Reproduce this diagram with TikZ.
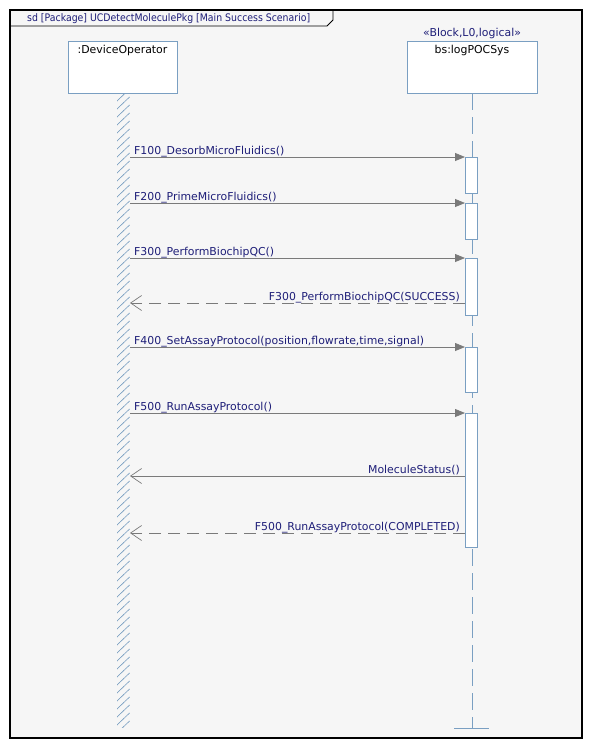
\documentclass[tikz,border=0pt]{standalone}
\usepackage{fontspec}
\setmainfont{DejaVu Sans}
\newfontfamily\titlefont{DejaVu Sans}[FakeStretch=0.9]
\usetikzlibrary{arrows.meta}
\definecolor{navy}{HTML}{1E1E78}
\definecolor{llc}{HTML}{7A9FC2}
\definecolor{bgc}{HTML}{F6F6F6}
\definecolor{msgc}{HTML}{7A7A7A}
\tikzset{
  objbox/.style={draw=llc, fill=white, line width=0.9pt, inner sep=0pt, outer sep=0pt, minimum width=109pt, minimum height=52pt},
  actbox/.style={draw=llc, fill=white, line width=0.9pt, inner sep=0pt, outer sep=0pt, minimum width=12pt},
  call/.style={draw=msgc, line width=0.8pt, -{Triangle[length=10pt,width=8pt]}},
  reply/.style={draw=msgc, line width=0.8pt, dash pattern=on 12pt off 7pt, -{Straight Barb[length=11pt,width=15pt,line width=0.7pt]}},
  sig/.style={draw=msgc, line width=0.8pt, -{Straight Barb[length=11pt,width=15pt,line width=0.7pt]}},
  lbl/.style={text=navy, inner sep=0pt},
}
\begin{document}
\begin{tikzpicture}[x=1pt,y=-1pt,font=\fontsize{10.9}{12}\selectfont]
\useasboundingbox (0,0) rectangle (592,748);
\fill[white] (0,0) rectangle (592,748);
% frame
\draw[fill=bgc, line width=1.5pt] (10,10) rectangle (582,738);
\draw[line width=0.9pt] (10,26) -- (327,26) -- (333,20) -- (333,10);
\node[lbl, anchor=base west, font=\titlefont\fontsize{10.4}{12}\selectfont] (title) at (27,21.5) {sd [Package] UCDetectMoleculePkg [Main Success Scenario]};
% lifelines heads
\node[objbox] (op) at (122.5,67) {};
\node[anchor=north, inner sep=0pt] (opt) at ([yshift=-4pt]op.north) {:DeviceOperator};
\node[objbox, minimum width=130pt] (po) at (472,67) {};
\node[anchor=north, inner sep=0pt] (pot) at ([yshift=-4pt]po.north) {bs:logPOCSys};
\node[lbl, anchor=south] (ster) at ([yshift=2pt]po.north) {«Block,L0,logical»};
% left hatched lifeline
\begin{scope}
\clip (117,93) rectangle (130,727);
\foreach \y in {89,97,...,735} {
  \draw[llc, line width=0.8pt, dash pattern=on 1pt off 0.5pt] (117,\y+12) -- (129.5,\y);
}
\end{scope}
% right lifeline
\coordinate (lend) at (472,728);
\draw[llc, line width=0.9pt, dash pattern=on 17pt off 7pt] (po.south) -- (lend);
\draw[llc, line width=0.9pt] (454,728) -- (489,728);
% activations
\node[actbox, minimum height=36pt] (a1) at (471,175) {};
\node[actbox, minimum height=36pt] (a2) at (471,221) {};
\node[actbox, minimum height=57pt] (a3) at (471,286.5) {};
\node[actbox, minimum height=45pt] (a4) at (471,369.5) {};
\node[actbox, minimum height=134pt] (a5) at (471,480) {};
% left endpoints
\coordinate (l1) at (130,157);
\coordinate (l2) at (130,203);
\coordinate (l3) at (130,258);
\coordinate (l4) at (130,303);
\coordinate (l5) at (130,347);
\coordinate (l6) at (130,413);
\coordinate (l7) at (130,476);
\coordinate (l8) at (130,533);
\coordinate (r4) at (465,303);
\coordinate (r7) at (465,476);
\coordinate (r8) at (465,533);
% messages
\draw[call] (l1) -- (a1.north west);
\node[lbl, anchor=base west] (m1) at (134,154) {F100\_DesorbMicroFluidics()};
\draw[call] (l2) -- (a2.north west);
\node[lbl, anchor=base west] (m2) at (134,200) {F200\_PrimeMicroFluidics()};
\draw[call] (l3) -- (a3.north west);
\node[lbl, anchor=base west] (m3) at (134,255) {F300\_PerformBiochipQC()};
\draw[reply] (r4) -- (l4);
\node[lbl, anchor=base east] (m4) at (460,300) {F300\_PerformBiochipQC(SUCCESS)};
\draw[call] (l5) -- (a4.north west);
\node[lbl, anchor=base west] (m5) at (134,344) {F400\_SetAssayProtocol(position,flowrate,time,signal)};
\draw[call] (l6) -- (a5.north west);
\node[lbl, anchor=base west] (m6) at (134,410) {F500\_RunAssayProtocol()};
\draw[sig] (r7) -- (l7);
\node[lbl, anchor=base east] (m7) at (460,473) {MoleculeStatus()};
\draw[reply] (r8) -- (l8);
\node[lbl, anchor=base east] (m8) at (460,530) {F500\_RunAssayProtocol(COMPLETED)};
\end{tikzpicture}
\end{document}
